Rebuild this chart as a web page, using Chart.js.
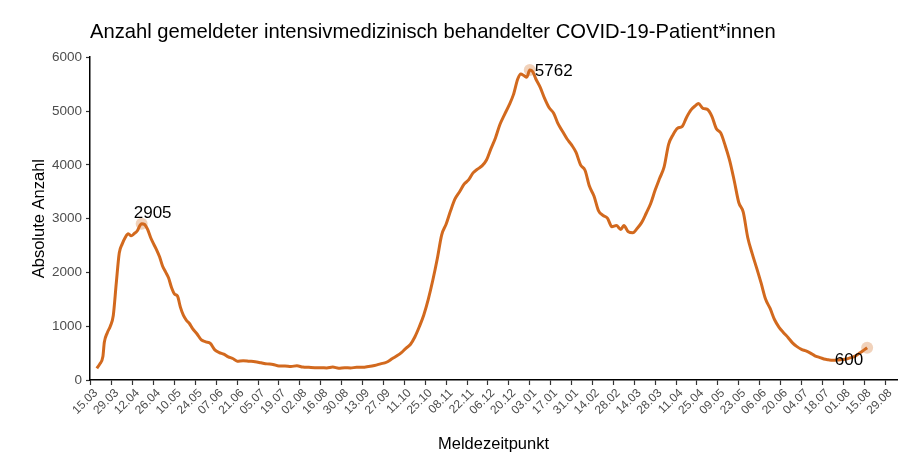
<!DOCTYPE html>
<html lang="de">
<head>
<meta charset="utf-8">
<title>Intensivpatienten COVID-19</title>
<script src="https://cdn.jsdelivr.net/npm/chart.js@4.4.1/dist/chart.umd.min.js"></script>
<style>
  html, body { margin: 0; padding: 0; background: #ffffff; }
  #wrap { width: 922px; height: 463px; }
</style>
</head>
<body>
<div id="wrap"><canvas id="icuChart"></canvas></div>
<script>
// Tage seit dem 15.03.2020 (Meldezeitpunkt)
const icuDays = [
  4, 6, 8, 9, 11, 13, 15, 17, 19, 21, 23, 25, 27, 29, 31, 33, 34, 36, 38, 40,
  42, 44, 46, 48, 50, 52, 54, 56, 58, 60, 62, 64, 66, 68, 71, 74, 77, 80, 83, 86,
  89, 92, 95, 98, 102, 106, 110, 114, 118, 122, 126, 130, 134, 138, 142, 146, 150, 154, 158, 162,
  166, 170, 174, 178, 182, 186, 190, 194, 198, 202, 205, 208, 211, 214, 217, 220, 223, 226, 229, 232,
  235, 238, 241, 244, 247, 250, 253, 256, 259, 262, 265, 268, 271, 274, 277, 280, 283, 286, 288, 290,
  292, 294, 296, 298, 301, 304, 307, 310, 313, 316, 319, 322, 325, 328, 331, 334, 337, 340, 343, 346,
  349, 352, 355, 357, 360, 363, 366, 369, 372, 375, 378, 381, 384, 387, 390, 393, 396, 399, 402, 405,
  407, 410, 413, 416, 419, 422, 425, 428, 431, 434, 437, 440, 443, 446, 449, 452, 455, 458, 461, 464,
  467, 470, 473, 476, 479, 482, 485, 488, 491, 494, 497, 500, 503, 506, 509, 512, 515, 518, 520
];

// gemeldete intensivmedizinisch behandelte Patient*innen
const icuPatients = [
  217, 300, 430, 700, 880, 1000, 1200, 1800, 2360, 2530, 2650, 2720, 2680, 2720, 2770, 2880, 2905, 2890, 2800, 2650,
  2530, 2420, 2290, 2120, 2010, 1900, 1720, 1600, 1560, 1350, 1200, 1110, 1050, 960, 860, 745, 710, 680, 560, 510,
  480, 430, 400, 350, 360, 350, 340, 320, 300, 290, 260, 260, 250, 265, 240, 235, 230, 230, 225, 240,
  220, 230, 225, 235, 235, 250, 270, 300, 330, 400, 450, 510, 590, 660, 800, 990, 1210, 1500, 1850, 2250,
  2700, 2900, 3150, 3370, 3500, 3640, 3720, 3850, 3920, 3980, 4090, 4300, 4500, 4750, 4930, 5100, 5300, 5600, 5690, 5660,
  5630, 5762, 5730, 5600, 5440, 5230, 5060, 4960, 4760, 4620, 4480, 4370, 4230, 4000, 3900, 3600, 3420, 3150, 3060, 3010,
  2850, 2870, 2800, 2870, 2755, 2737, 2820, 2930, 3100, 3280, 3530, 3750, 3960, 4380, 4560, 4680, 4710, 4880, 5020, 5100,
  5140, 5050, 5030, 4900, 4670, 4590, 4350, 4070, 3700, 3300, 3120, 2650, 2350, 2080, 1800, 1500, 1330, 1120, 980, 880,
  790, 690, 620, 570, 540, 500, 450, 420, 390, 375, 365, 370, 380, 390, 415, 445, 500, 560, 600
];

// beschriftete Punkte (Tage seit 15.03.2020)
const markedDays = [34, 294, 520];

// Achsenbeschriftungen, alle 14 Tage ab 15.03.2020
const tickLabels = [
  '15.03', '29.03', '12.04', '26.04', '10.05', '24.05', '07.06', '21.06', '05.07', '19.07',
  '02.08', '16.08', '30.08', '13.09', '27.09', '11.10', '25.10', '08.11', '22.11', '06.12',
  '20.12', '03.01', '17.01', '31.01', '14.02', '28.02', '14.03', '28.03', '11.04', '25.04',
  '09.05', '23.05', '06.06', '20.06', '04.07', '18.07', '01.08', '15.08', '29.08'
];
const yTicks = [0, 1000, 2000, 3000, 4000, 5000, 6000];

const FONT = "'Liberation Sans', Arial, sans-serif";
const lineColor = '#d2691e';

const linePoints = icuDays.map((d, i) => ({ x: d, y: icuPatients[i] }));
const markedPoints = markedDays.map(d => ({ x: d, y: icuPatients[icuDays.indexOf(d)] }));

// Zahlen an den markierten Punkten
const pointLabels = {
  id: 'pointLabels',
  afterDatasetsDraw(chart) {
    const meta = chart.getDatasetMeta(1);
    const ctx = chart.ctx;
    const place = [
      { dx: 11, dy: -10, align: 'center' },
      { dx: 5, dy: 1, align: 'left' },
      { dx: -4, dy: 13, align: 'right' }
    ];
    ctx.save();
    ctx.font = '17px ' + FONT;
    ctx.fillStyle = '#000000';
    ctx.textBaseline = 'middle';
    meta.data.forEach((pt, i) => {
      ctx.textAlign = place[i].align;
      ctx.fillText(String(markedPoints[i].y), pt.x + place[i].dx, pt.y + place[i].dy);
    });
    ctx.restore();
  }
};

new Chart(document.getElementById('icuChart'), {
  type: 'line',
  data: {
    datasets: [
      {
        data: linePoints,
        borderColor: lineColor,
        borderWidth: 3,
        pointRadius: 0,
        cubicInterpolationMode: 'monotone',
        fill: false
      },
      {
        data: markedPoints,
        showLine: false,
        pointRadius: 6,
        pointBorderWidth: 0,
        pointBackgroundColor: 'rgba(210,105,30,0.3)'
      }
    ]
  },
  options: {
    responsive: true,
    maintainAspectRatio: false,
    animation: false,
    layout: { padding: { top: 0, right: 25, bottom: 0, left: 0 } },
    plugins: {
      legend: { display: false },
      tooltip: { enabled: false },
      title: {
        display: true,
        text: 'Anzahl gemeldeter intensivmedizinisch behandelter COVID-19-Patient*innen',
        align: 'start',
        fullSize: false,
        color: '#000000',
        font: { family: FONT, size: 20.2, weight: 'normal' },
        padding: { top: 20, bottom: 13 }
      }
    },
    scales: {
      x: {
        type: 'linear',
        min: -0.6,
        max: 540,
        afterBuildTicks: axis => {
          axis.ticks = tickLabels.map((_, i) => ({ value: i * 14 }));
        },
        afterFit: axis => { axis.height = 83; },
        ticks: {
          autoSkip: false,
          maxRotation: 45,
          minRotation: 45,
          padding: 1,
          labelOffset: 5,
          color: '#4d4d4d',
          font: { family: FONT, size: 12 },
          callback: (v, i) => tickLabels[i]
        },
        grid: { drawOnChartArea: false, tickLength: 5, tickColor: '#333333', tickWidth: 1.2 },
        border: { color: '#000000', width: 1.5 },
        title: {
          display: true,
          text: 'Meldezeitpunkt',
          color: '#000000',
          font: { family: FONT, size: 16.5 },
          padding: { top: 0, bottom: 9 }
        }
      },
      y: {
        min: 0,
        max: 6000,
        afterBuildTicks: axis => {
          axis.ticks = yTicks.map(v => ({ value: v }));
        },
        afterFit: axis => { axis.width = 90; },
        ticks: {
          padding: 4,
          color: '#4d4d4d',
          font: { family: FONT, size: 13.5 },
          callback: v => String(v)
        },
        grid: { drawOnChartArea: false, tickLength: 4, tickColor: '#333333', tickWidth: 1.2 },
        border: { color: '#000000', width: 1.5 },
        title: {
          display: true,
          text: 'Absolute Anzahl',
          color: '#000000',
          font: { family: FONT, size: 16.5 },
          padding: { top: 30, bottom: 0 }
        }
      }
    }
  },
  plugins: [pointLabels]
});
</script>
</body>
</html>
